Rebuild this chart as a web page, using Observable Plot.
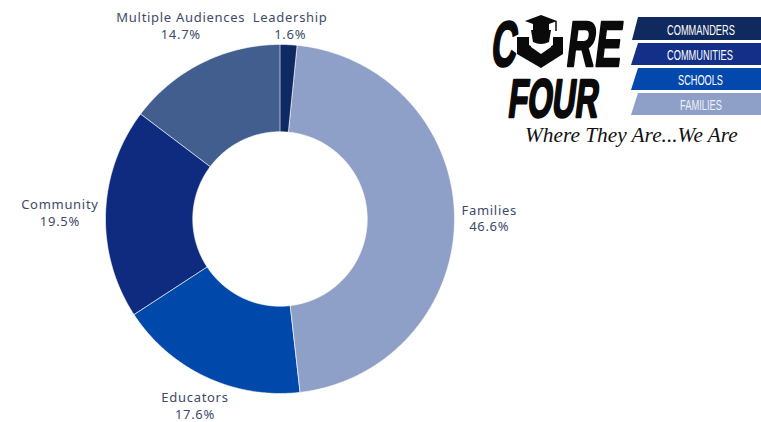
<!DOCTYPE html>
<html>
<head>
<meta charset="utf-8">
<script src="https://cdn.jsdelivr.net/npm/d3@7"></script>
<script src="https://cdn.jsdelivr.net/npm/@observablehq/plot@0.6"></script>
<style>
  html, body { margin: 0; padding: 0; background: #fff; }
  #wrap { position: relative; width: 761px; height: 422px; overflow: hidden; }
  #wrap svg.plot { position: absolute; left: 0; top: 0; }
  #logo { position: absolute; left: 0; top: 0; pointer-events: none; }
</style>
</head>
<body>
<div id="wrap"></div>
<script>
// ---- data ----
const labels = ["Leadership", "Families", "Educators", "Community", "Multiple Audiences"];
const values = [1.6, 46.6, 17.6, 19.5, 14.7];
const colors = ["#0f2a62", "#8e9fc8", "#0048a9", "#0f2b80", "#415e8e"];

// ---- layout ----
const W = 761, H = 422;
const cx = 279.5, cy = 218.5, R = 174.5, innerRatio = 0.5;
const labelFont = "Noto Sans";
const fontSize = 13;
const lineH = 16.5;
const letterSp = 0.7;

const data = labels.map((label, i) => ({label, value: values[i]}));
const arcs = d3.pie().sort(null).value(d => d.value)(data);

// polygon vertices for each slice (unit circle coordinates)
const pts = [];
for (const a of arcs) {
  const n = Math.max(4, Math.ceil((a.endAngle - a.startAngle) / 0.01));
  for (let k = 0; k <= n; k++) {
    const t = a.startAngle + (a.endAngle - a.startAngle) * k / n;
    pts.push({label: a.data.label, x: Math.sin(t), y: Math.cos(t)});
  }
  for (let k = n; k >= 0; k--) {
    const t = a.startAngle + (a.endAngle - a.startAngle) * k / n;
    pts.push({label: a.data.label, x: innerRatio * Math.sin(t), y: innerRatio * Math.cos(t)});
  }
}

// label placement (computed from slice mid-angles)
const ctx = document.createElement("canvas").getContext("2d");
ctx.font = `${fontSize}px "${labelFont}"`;
const tw = s => ctx.measureText(s).width + letterSp * s.length;
const g = 7;
const h = 2 * lineH;
const lab = arcs.map(a => {
  const m = (a.startAngle + a.endAngle) / 2;
  const ux = Math.sin(m), uy = -Math.cos(m); // pixel direction
  const px = cx + R * ux, py = cy + R * uy;
  const pct = a.data.value.toFixed(1) + "%";
  const w = Math.max(tw(a.data.label), tw(pct));
  let lx, ly;
  if (uy < -0.85) {            // top row
    lx = px + ux * (w / 2) * 0.75; ly = cy - R - h / 2 - 3;
  } else if (uy > 0.85) {      // bottom row
    lx = px + ux * (w / 2) * 0.75; ly = cy + R + h / 2 - 5;
  } else {                     // sides
    lx = px + ux * (w / 2 + g); ly = py + uy * (h / 2 + 4);
  }
  return {label: a.data.label, pct, text: a.data.label + "\n" + pct,
          x: (lx - cx) / R, y: (cy - ly) / R};
});

const chart = Plot.plot({
  width: W, height: H,
  margin: 0,
  x: {domain: [-cx / R, (W - cx) / R], axis: null},
  y: {domain: [-(H - cy) / R, cy / R], axis: null},
  color: {domain: labels, range: colors},
  style: {background: "transparent", fontFamily: labelFont, letterSpacing: letterSp + "px"},
  marks: [
    Plot.line(pts, {x: "x", y: "y", z: "label", fill: "label", stroke: "white", strokeWidth: 0.6, curve: "linear-closed"}),
    Plot.text(lab, {x: "x", y: "y", text: "text", fill: "#3d4a6b", fontSize: fontSize, lineHeight: lineH / fontSize, textAnchor: "middle", lineAnchor: "middle"})
  ]
});
chart.classList.add("plot");
document.getElementById("wrap").appendChild(chart);

// ---- logo (decorative) ----
const logo = `
<svg id="logo" width="${W}" height="${H}" xmlns="http://www.w3.org/2000/svg">
  <g font-family="Liberation Sans, Arial, sans-serif" font-weight="bold" fill="#0a0a0a" stroke="#0a0a0a" stroke-width="2.4" stroke-linejoin="round">
    <text class="fit" data-x="490" data-y="66" data-w="25" data-skew="-7" font-size="64">C</text>
    <text class="fit" data-x="565" data-y="66" data-w="55" data-skew="-7" font-size="64">RE</text>
    <text class="fit" data-x="507" data-y="117" data-w="90" data-skew="-7" font-size="54">FOUR</text>
  </g>
  <g fill="#0a0a0a">
    <polygon points="541,15 557,21 541,27 525,21"/>
    <rect x="533" y="23" width="16" height="7"/>
    <line x1="556" y1="21" x2="556" y2="31" stroke="#0a0a0a" stroke-width="1.5"/>
    <path d="M531,30 L551,30 L549,42 Q541,46 533,42 Z"/>
    <polygon points="517,37 529,37 529,45 541,52 553,45 553,37 563,37 563,54 541,68 517,54"/>
    <polygon points="531,44 541,50 551,44 551,47 541,54 531,47" fill="#fff"/>
  </g>
  <polygon points="638,17 761,17 761,40 632,40" fill="#10295e"/>
  <polygon points="638,43 761,43 761,65 631,65" fill="#132f88"/>
  <polygon points="638,68 761,68 761,90 631,90" fill="#0349ad"/>
  <polygon points="638,93 761,93 761,115 631,115" fill="#8e9fc8"/>
  <g font-family="Liberation Sans, Arial, sans-serif" font-size="14" fill="#fff">
    <text class="fit" data-x="667" data-y="35" data-w="68">COMMANDERS</text>
    <text class="fit" data-x="667" data-y="60" data-w="66">COMMUNITIES</text>
    <text class="fit" data-x="678" data-y="85" data-w="45">SCHOOLS</text>
    <text class="fit" data-x="680" data-y="110" data-w="42" fill="#eef1f8">FAMILIES</text>
  </g>
  <text class="fit" data-x="525" data-y="142" data-w="213" font-family="Liberation Serif, serif" font-style="italic" font-size="22" fill="#111">Where They Are...We Are</text>
</svg>`;
document.getElementById("wrap").insertAdjacentHTML("beforeend", logo);
document.querySelectorAll("#logo text.fit").forEach(t => {
  const x = +t.dataset.x, y = +t.dataset.y, w = +t.dataset.w, sk = +(t.dataset.skew || 0);
  const nat = t.getComputedTextLength();
  const s = w / nat;
  t.setAttribute("transform", `translate(${x},${y}) skewX(${sk}) scale(${s},1)`);
});
</script>
</body>
</html>
